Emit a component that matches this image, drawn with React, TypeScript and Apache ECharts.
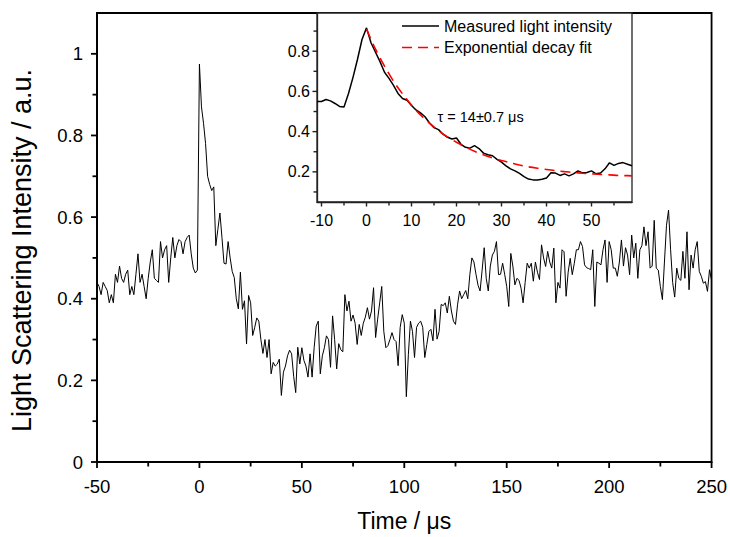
import React, { useEffect, useRef } from "react";
import * as echarts from "echarts";

// ---------- data ----------
const mainStart = -50; // µs, 1 µs sampling
const mainValues = [
  0.44, 0.43, 0.41, 0.44, 0.43, 0.42, 0.39, 0.41, 0.39, 0.46,
  0.44, 0.48, 0.45, 0.44, 0.46, 0.47, 0.41, 0.43, 0.41, 0.46,
  0.51, 0.44, 0.46, 0.43, 0.40, 0.45, 0.49, 0.52, 0.45, 0.445,
  0.44, 0.54, 0.50, 0.52, 0.53, 0.44, 0.50, 0.55, 0.50, 0.53,
  0.545, 0.54, 0.51, 0.54, 0.55, 0.556, 0.51, 0.475, 0.463, 0.47,
  0.975, 0.87, 0.83, 0.78, 0.70, 0.68, 0.665, 0.674, 0.53, 0.57,
  0.61, 0.55, 0.487, 0.485, 0.54, 0.50, 0.467, 0.452, 0.40, 0.375,
  0.465, 0.374, 0.395, 0.289, 0.408, 0.39, 0.31, 0.33, 0.353, 0.345,
  0.30, 0.266, 0.30, 0.256, 0.30, 0.216, 0.244, 0.235, 0.24, 0.252,
  0.163, 0.22, 0.235, 0.26, 0.274, 0.265, 0.21, 0.17, 0.281, 0.24,
  0.28, 0.249, 0.235, 0.208, 0.265, 0.208, 0.28, 0.333, 0.345, 0.216,
  0.26, 0.28, 0.309, 0.30, 0.232, 0.358, 0.30, 0.228, 0.29, 0.275,
  0.27, 0.41, 0.37, 0.394, 0.345, 0.36, 0.34, 0.288, 0.337, 0.31,
  0.34, 0.355, 0.378, 0.35, 0.37, 0.427, 0.305, 0.35, 0.39, 0.43,
  0.32, 0.28, 0.285, 0.30, 0.317, 0.30, 0.295, 0.236,
  0.33, 0.361, 0.34, 0.16, 0.264, 0.345, 0.32, 0.256, 0.33, 0.34,
  0.345, 0.33, 0.256, 0.288, 0.32, 0.325, 0.297, 0.374, 0.301, 0.32,
  0.386, 0.383, 0.39, 0.365, 0.406, 0.37, 0.345, 0.337, 0.385, 0.419,
  0.40, 0.41, 0.42, 0.40, 0.459, 0.50, 0.49, 0.46, 0.433, 0.419,
  0.47, 0.525, 0.45, 0.419, 0.48, 0.507, 0.516, 0.54, 0.459,
  0.46, 0.487, 0.46, 0.43, 0.381, 0.511, 0.48, 0.434, 0.45, 0.445,
  0.426, 0.39, 0.44, 0.487, 0.475, 0.487, 0.443, 0.49, 0.465, 0.447,
  0.532, 0.50, 0.479, 0.516, 0.49, 0.475, 0.524, 0.39, 0.44, 0.426,
  0.52, 0.515, 0.406, 0.465, 0.499, 0.459, 0.487, 0.52, 0.52, 0.54,
  0.528, 0.483, 0.476, 0.474, 0.471, 0.52, 0.381, 0.49, 0.487,
  0.483, 0.52, 0.544, 0.44, 0.54, 0.52, 0.475, 0.475, 0.455, 0.49,
  0.544, 0.48, 0.525, 0.507, 0.459, 0.556, 0.50, 0.536, 0.45, 0.52,
  0.53, 0.576, 0.53, 0.564, 0.475, 0.48, 0.592, 0.475, 0.47, 0.43,
  0.398, 0.49, 0.58, 0.617, 0.52, 0.44, 0.404, 0.475, 0.45, 0.445,
  0.516, 0.45, 0.564, 0.422, 0.507, 0.475, 0.52, 0.54, 0.467, 0.455,
  0.438, 0.442, 0.418, 0.471, 0.445,
];

const insetStart = -11; // µs, 1 µs sampling
const insetMeasured = [
  0.55, 0.55, 0.56, 0.553, 0.54, 0.525, 0.523, 0.59, 0.67, 0.76, 0.858,
  0.916, 0.842, 0.795, 0.748, 0.695, 0.665, 0.63, 0.59, 0.565, 0.556,
  0.53, 0.508, 0.493, 0.474, 0.443, 0.42, 0.41, 0.387, 0.372, 0.363,
  0.368, 0.337, 0.322, 0.318, 0.33, 0.316, 0.293, 0.285, 0.28, 0.262,
  0.248, 0.23, 0.215, 0.205, 0.192, 0.176, 0.164, 0.16, 0.16, 0.163,
  0.169, 0.195, 0.194, 0.182, 0.19, 0.18, 0.19, 0.205, 0.195, 0.197,
  0.205, 0.19, 0.194, 0.215, 0.245, 0.232, 0.242, 0.246, 0.238, 0.23,
];

const fitTime = [0, 2, 4, 6, 8, 10, 12, 14, 16, 18, 20, 22, 24, 26, 28, 30, 32, 34, 36, 38, 40, 42, 44, 46, 48, 50, 52, 54, 56, 58, 59];
const fitValues = [
  0.91, 0.81, 0.726, 0.651, 0.588, 0.532, 0.483, 0.442, 0.405, 0.374, 0.347,
  0.323, 0.302, 0.285, 0.269, 0.256, 0.245, 0.234, 0.225, 0.218, 0.212,
  0.206, 0.201, 0.197, 0.193, 0.19, 0.187, 0.185, 0.182, 0.181, 0.18,
];

// tick values
const mainXTicks = [-50, 0, 50, 100, 150, 200, 250];
const mainXMinor = [-25, 25, 75, 125, 175, 225];
const mainYTicks = [0, 0.2, 0.4, 0.6, 0.8, 1];
const mainYMinor = [0.1, 0.3, 0.5, 0.7, 0.9];
const insetXTicks = [-10, 0, 10, 20, 30, 40, 50];
const insetXMinor = [-5, 5, 15, 25, 35, 45, 55];
const insetYTicks = [0.2, 0.4, 0.6, 0.8];
const insetYMinor = [0.1, 0.3, 0.5, 0.7, 0.9];

const seriesNames = ["Measured light intensity", "Exponential decay fit"];
const tauLabel = "τ = 14±0.7 μs";

// ---------- chart ----------
const FONT = "'Liberation Sans', Arial, Helvetica, sans-serif";
const BLACK = "#000";
const INSET = "#222";
const RED = "#ff0000";

const MAIN_X = { min: -50, max: 250 };
const MAIN_Y = { min: 0, max: 1.1 };
const INSET_X = { min: -11, max: 59 };
const INSET_Y = { min: 0.05, max: 0.99 };

function onlyLabels(list: number[]) {
  return (v: number) => {
    for (const t of list) if (Math.abs(v - t) < 1e-6) return String(t);
    return "";
  };
}

export default function App() {
  const ref = useRef<HTMLDivElement>(null);
  useEffect(() => {
    if (!ref.current) return;
    const chart = echarts.init(ref.current, undefined, { renderer: "svg" });
    const mainData = mainValues.map((v, i) => [mainStart + i, v]);
    const insetData = insetMeasured.map((v, i) => [insetStart + i, v]);
    const fitData = fitValues.map((v, i) => [fitTime[i], v]);

    const baseGraphics: any[] = [
      { type: "line", z: 10, shape: { x1: 402, y1: 26, x2: 439, y2: 26 }, style: { stroke: BLACK, lineWidth: 1.5 } },
      { type: "text", z: 10, x: 444, y: 26, style: { text: seriesNames[0], fontSize: 16, fontFamily: FONT, fill: BLACK, verticalAlign: "middle" } },
      { type: "line", z: 10, shape: { x1: 402, y1: 47.5, x2: 439, y2: 47.5 }, style: { stroke: RED, lineWidth: 1.6, lineDash: [10, 6] } },
      { type: "text", z: 10, x: 444, y: 47.5, style: { text: seriesNames[1], fontSize: 16, fontFamily: FONT, fill: BLACK, verticalAlign: "middle" } },
      { type: "text", z: 10, x: 437.5, y: 116.5, style: { text: tauLabel, fontSize: 14.5, fontFamily: FONT, fill: BLACK, verticalAlign: "middle" } },
    ];

    const option: any = {
      animation: false,
      backgroundColor: "#fff",
      textStyle: { fontFamily: FONT },
      grid: [
        { left: 97, top: 13, width: 615, height: 452.5, show: true, borderColor: BLACK, borderWidth: 1.8, backgroundColor: "transparent" },
        { left: 317, top: 13, width: 315, height: 189, show: true, borderColor: INSET, borderWidth: 1.3, backgroundColor: "#fff", z: 5 },
      ],
      xAxis: [
        {
          type: "value", gridIndex: 0, position: "bottom", ...MAIN_X, interval: 50,
          splitLine: { show: false },
          axisLine: { show: true, onZero: false, lineStyle: { color: BLACK, width: 1.8 } },
          axisTick: { show: false },
          axisLabel: { color: BLACK, fontFamily: FONT, fontSize: 18.5, margin: 15, formatter: onlyLabels(mainXTicks) },
          name: "Time / μs", nameLocation: "middle", nameGap: 47,
          nameTextStyle: { color: BLACK, fontSize: 23, fontFamily: FONT },
        },
        {
          type: "value", gridIndex: 1, position: "bottom", ...INSET_X, splitNumber: 14,
          splitLine: { show: false },
          axisLine: { show: true, onZero: false, lineStyle: { color: INSET, width: 1.3 } },
          axisTick: { show: false },
          axisLabel: { color: BLACK, fontFamily: FONT, fontSize: 16, margin: 10, formatter: onlyLabels(insetXTicks) },
          z: 6,
        },
      ],
      yAxis: [
        {
          type: "value", gridIndex: 0, position: "left", ...MAIN_Y, interval: 0.1,
          splitLine: { show: false },
          axisLine: { show: true, onZero: false, lineStyle: { color: BLACK, width: 1.8 } },
          axisTick: { show: false },
          axisLabel: { color: BLACK, fontFamily: FONT, fontSize: 18.5, margin: 14, formatter: onlyLabels(mainYTicks) },
          name: "Light Scattering Intensity / a.u.", nameLocation: "middle", nameGap: 62,
          nameTextStyle: { color: BLACK, fontSize: 27, fontFamily: FONT, padding: [0, 26, 0, 0] },
        },
        {
          type: "value", gridIndex: 1, position: "left", ...INSET_Y, splitNumber: 9,
          splitLine: { show: false },
          axisLine: { show: true, onZero: false, lineStyle: { color: INSET, width: 1.3 } },
          axisTick: { show: false },
          axisLabel: { color: BLACK, fontFamily: FONT, fontSize: 16, margin: 7, formatter: onlyLabels(insetYTicks) },
          z: 6,
        },
      ],
      graphic: { elements: baseGraphics },
      series: [
        {
          type: "line", name: "main", xAxisIndex: 0, yAxisIndex: 0, data: mainData,
          showSymbol: false, symbol: "none", lineStyle: { color: BLACK, width: 1 }, itemStyle: { color: BLACK },
          z: 2,
        },
        {
          type: "line", name: seriesNames[0], xAxisIndex: 1, yAxisIndex: 1, data: insetData,
          showSymbol: false, symbol: "none", lineStyle: { color: BLACK, width: 1.5 }, itemStyle: { color: BLACK },
          z: 7, clip: true,
        },
        {
          type: "line", name: seriesNames[1], xAxisIndex: 1, yAxisIndex: 1, data: fitData,
          showSymbol: false, symbol: "none", smooth: 0.3,
          lineStyle: { color: RED, width: 1.6, type: [10, 6] }, itemStyle: { color: RED },
          z: 8, clip: true,
        },
      ],
    };
    chart.setOption(option);

    // tick marks, positioned through the axes' own scales
    const tickEls: any[] = [];
    const addTicks = (grid: number, xMin: number, yMin: number, xMaj: number[], xMin2: number[], yMaj: number[], yMin2: number[], majLen: number, minLen: number, width: number, color: string) => {
      const push = (x1: number, y1: number, x2: number, y2: number) =>
        tickEls.push({ type: "line", z: 100, silent: true, shape: { x1, y1, x2, y2 }, style: { stroke: color, lineWidth: width } });
      const xt = (vals: number[], len: number) => vals.forEach((v) => {
        const p = chart.convertToPixel({ gridIndex: grid }, [v, yMin]) as number[];
        push(p[0], p[1], p[0], p[1] + len);
      });
      const yt = (vals: number[], len: number) => vals.forEach((v) => {
        const p = chart.convertToPixel({ gridIndex: grid }, [xMin, v]) as number[];
        push(p[0] - len, p[1], p[0], p[1]);
      });
      xt(xMaj, majLen); xt(xMin2, minLen); yt(yMaj, majLen); yt(yMin2, minLen);
    };
    addTicks(0, MAIN_X.min, MAIN_Y.min, mainXTicks, mainXMinor, mainYTicks, mainYMinor, 6, 4.5, 1.8, BLACK);
    addTicks(1, INSET_X.min, INSET_Y.min, insetXTicks, insetXMinor, insetYTicks, insetYMinor, 4.5, 3.5, 1.4, INSET);
    chart.setOption({ graphic: { elements: [...baseGraphics, ...tickEls] } });

    return () => chart.dispose();
  }, []);
  return (
    <div
      ref={ref}
      style={{ position: "absolute", left: 0, top: 0, width: 730, height: 537, background: "#fff" }}
    />
  );
}
